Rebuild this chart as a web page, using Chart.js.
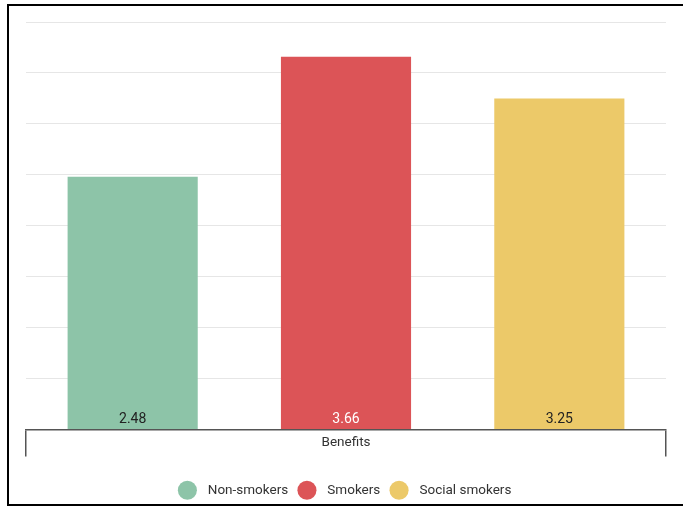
<!DOCTYPE html>
<html>
<head>
<meta charset="utf-8">
<script src="https://cdn.jsdelivr.net/npm/chart.js@4"></script>
<style>
  html, body { margin: 0; padding: 0; background: #fff; overflow: hidden; }
  #frame {
    position: absolute; left: 7px; top: 4px; width: 700px; height: 502px;
    border: 2px solid #000; box-sizing: border-box;
  }
  #wrap { position: absolute; left: 0; top: 0; width: 683px; height: 507px; }
</style>
</head>
<body>
<div id="frame"></div>
<div id="wrap"><canvas id="chart"></canvas></div>
<script>
// =======================
// Dados
// =======================
const categorias = ["Benefits"];
const grupos = ["Non-smokers", "Smokers", "Social smokers"];
const valores = [2.48, 3.66, 3.25];
const cores = ["#8dc4a8", "#dc5457", "#ecc969"];
const coresRotulo = ["#222222", "#ffffff", "#222222"];

// =======================
// Rótulos de valor na base de cada barra
// =======================
const rotulosBarra = {
    id: "rotulosBarra",
    afterDatasetsDraw(chart) {
        const ctx = chart.ctx;
        ctx.save();
        ctx.font = "14px Roboto";
        ctx.textAlign = "center";
        ctx.textBaseline = "middle";
        chart.data.datasets.forEach((ds, i) => {
            const meta = chart.getDatasetMeta(i);
            meta.data.forEach((bar, j) => {
                ctx.fillStyle = coresRotulo[i];
                ctx.fillText(ds.data[j].toFixed(2), bar.x, bar.base - 10);
            });
        });
        ctx.restore();
    }
};

const datasets = grupos.map((g, i) => ({
    label: g,
    data: [valores[i]],
    backgroundColor: cores[i],
    borderWidth: 0,
    categoryPercentage: 1.0,
    barPercentage: 0.61
}));

new Chart(document.getElementById("chart"), {
    type: "bar",
    data: { labels: categorias, datasets },
    plugins: [rotulosBarra],
    options: {
        responsive: true,
        maintainAspectRatio: false,
        animation: false,
        layout: { padding: { left: 26, right: 17, top: 22, bottom: 0 } },
        plugins: {
            tooltip: { enabled: false },
            legend: {
                position: "bottom",
                labels: {
                    usePointStyle: true,
                    pointStyle: "circle",
                    color: "#333",
                    padding: 12,
                    font: { family: "Roboto", size: 13.5 },
                    // um espaço a mais entre o círculo e o texto
                    generateLabels(chart) {
                        return Chart.defaults.plugins.legend.labels.generateLabels(chart)
                            .map(l => ({ ...l, text: "\u2002" + l.text }));
                    }
                }
            }
        },
        scales: {
            x: {
                grid: {
                    drawOnChartArea: false,
                    drawTicks: true,
                    tickLength: 27,
                    color: "#555",
                    lineWidth: 1.5
                },
                border: { color: "#555", width: 1.5 },
                ticks: {
                    color: "#333",
                    padding: -22,
                    font: { family: "Roboto", size: 13.5 }
                },
                afterFit(scale) { scale.height = 42; }
            },
            y: {
                min: 0,
                max: 4,
                ticks: { display: false, stepSize: 0.5 },
                border: { display: false },
                grid: { color: "#e6e6e6", drawTicks: false, lineWidth: 1 }
            }
        }
    }
});
</script>
</body>
</html>
